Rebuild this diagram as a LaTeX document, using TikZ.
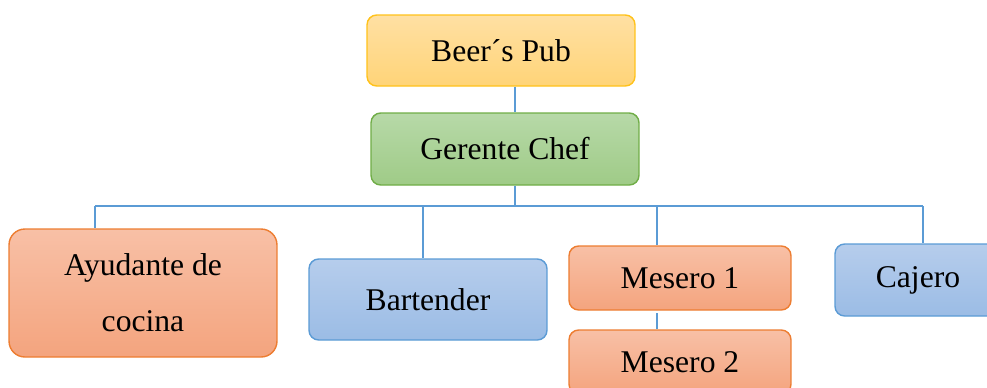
\documentclass[tikz,border=0pt]{standalone}
\usepackage{fontspec}
\setmainfont{Liberation Serif}
\definecolor{linkblue}{HTML}{5B9BD5}
\definecolor{publine}{HTML}{FFC21A}
\definecolor{pubtop}{HTML}{FFE0A3}
\definecolor{pubbot}{HTML}{FFD478}
\definecolor{chefline}{HTML}{70AD47}
\definecolor{cheftop}{HTML}{B7D9A8}
\definecolor{chefbot}{HTML}{9FCB87}
\definecolor{orangeline}{HTML}{ED7D31}
\definecolor{orangetop}{HTML}{F8C0A6}
\definecolor{orangebot}{HTML}{F4A47E}
\definecolor{blueline}{HTML}{5B9BD5}
\definecolor{bluetop}{HTML}{B6CDEC}
\definecolor{bluebot}{HTML}{9BBCE5}

\begin{document}
\begin{tikzpicture}[x=0.02cm, y=-0.02cm]
            \tikzset{role/.style={rounded corners=5.5pt, line width=0.8pt, inner sep=0pt, align=center, font={\fontsize{18}{22}\selectfont}}};
            \tikzset{pub/.style={role, draw=publine, top color=pubtop, bottom color=pubbot}};
            \tikzset{chef/.style={role, draw=chefline, top color=cheftop, bottom color=chefbot}};
            \tikzset{kitchen/.style={role, draw=orangeline, top color=orangetop, bottom color=orangebot}};
            \tikzset{counter/.style={role, draw=blueline, top color=bluetop, bottom color=bluebot}};
            \tikzset{link/.style={linkblue, line width=0.6pt}};
            \useasboundingbox (0, 0) rectangle (987, 387);
            \clip (0, 0) rectangle (987, 387);
            % Top
            \node[pub, minimum width=5.36cm, minimum height=1.42cm] (pub) at (501, 50.5) {Beer´s Pub};
            \node[chef, minimum width=5.36cm, minimum height=1.44cm] (chef) at (505, 149) {Gerente Chef};
            % Staff
            \node[kitchen, rounded corners=9pt, minimum width=5.36cm, minimum height=2.56cm, font={\fontsize{18}{32}\selectfont}] (ayudante) at (143, 293) {Ayudante de\\cocina};
            \node[counter, minimum width=4.76cm, minimum height=1.62cm] (bartender) at (428, 299.5) {Bartender};
            \node[kitchen, minimum width=4.44cm, minimum height=1.28cm] (mesero1) at (680, 278) {Mesero 1};
            \node[kitchen, minimum width=4.44cm, minimum height=1.28cm] (mesero2) at (680, 362) {Mesero 2};
            \node[counter, minimum width=3.32cm, minimum height=1.44cm] (cajero) at (918, 280) {Cajero};
            % Connectors
            \coordinate (bus root) at (515, 206);
            \coordinate (bus west) at (95, 206);
            \coordinate (bus east) at (923, 206);
            \coordinate (drop bar) at (423, 206);
            \coordinate (drop mes) at (657, 206);
            \draw[link] (pub.south -| bus root) -- (chef.north -| bus root);
            \draw[link] (chef.south -| bus root) -- (bus root);
            \draw[link] (bus west) -- (bus east);
            \draw[link] (bus west) -- (ayudante.north -| bus west);
            \draw[link] (drop bar) -- (bartender.north -| drop bar);
            \draw[link] (drop mes) -- (mesero1.north -| drop mes);
            \draw[link] (bus east) -- (cajero.north -| bus east);
            \draw[link] ([yshift=-1.5pt]mesero1.south -| drop mes) -- (mesero2.north -| drop mes);
\end{tikzpicture}
\end{document}
